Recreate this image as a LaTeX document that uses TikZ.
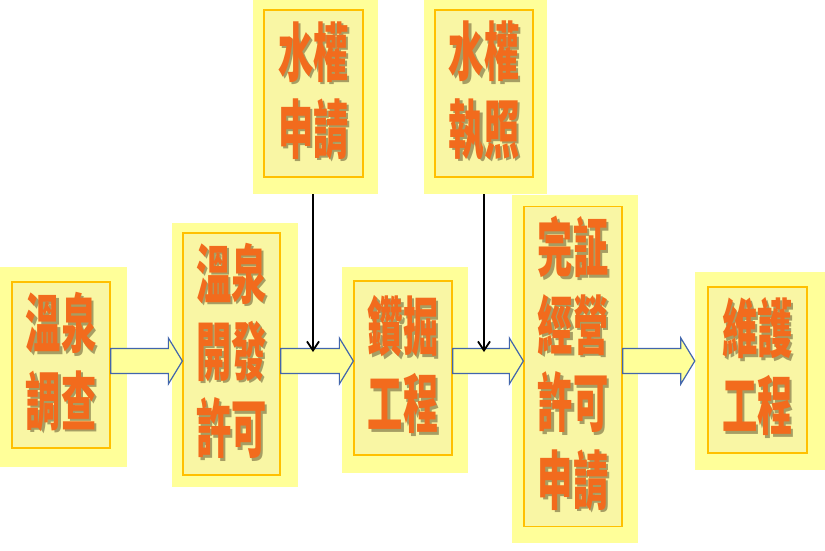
\documentclass[tikz,border=0pt]{standalone}
\usepackage{fontspec}
\usepackage{graphicx}
\newfontfamily\cjk{Noto Sans CJK TC}
\usetikzlibrary{arrows.meta,calc}
\definecolor{outery}{HTML}{FFFF99}
\definecolor{innery}{HTML}{F9F6A4}
\definecolor{goldline}{HTML}{FFC000}
\definecolor{txtorange}{HTML}{F26B1D}
\definecolor{txtshadow}{HTML}{A69E64}
\definecolor{arrowblue}{HTML}{4266AC}
\newcommand{\shtxt}[1]{\rlap{\hspace{4.5pt}\raisebox{-2.5pt}{\textcolor{txtshadow}{#1}}}\textcolor{txtorange}{#1}}
\newcommand{\boxtext}[1]{\vbox{\kern10pt\hbox{\scalebox{0.55}[1]{\fontsize{64}{75}\selectfont\cjk\bfseries\begin{tabular}{@{}c@{}}#1\end{tabular}}}}}
\newcommand{\blockarrow}[2]{%
  \draw[blkarrow] let \p1=(#1.east |- row), \p2=(#2.west |- row) in
    (\x1,\y1+12.5pt) -- (\x2-14pt,\y1+12.5pt) -- (\x2-14pt,\y1+23pt) -- (\x2,\y1)
    -- (\x2-14pt,\y1-23pt) -- (\x2-14pt,\y1-12.5pt) -- (\x1,\y1-12.5pt) -- cycle;}
\begin{document}
\begin{tikzpicture}[x=1pt,y=-1pt,
  outerbg/.style={draw=none,fill=outery,inner sep=0pt},
  innerbox/.style={draw=goldline,line width=1.3pt,fill=innery,inner sep=0pt},
  blkarrow/.style={draw=arrowblue,line width=1.2pt,fill=outery,line join=miter},
  vline/.style={draw=black,line width=1.8pt,-{Straight Barb[length=9pt,width=12pt,line width=1.8pt]}}]
\useasboundingbox[fill=white] (0,0) rectangle (825,550);
% outer backgrounds
\node[outerbg,minimum width=127pt,minimum height=200pt] (o1) at (63.5,367) {};
\node[outerbg,minimum width=126pt,minimum height=264pt] (o2) at (235,355) {};
\node[outerbg,minimum width=125pt,minimum height=194pt] (ow1) at (315.5,97) {};
\node[outerbg,minimum width=126pt,minimum height=206pt] (o3) at (405,370) {};
\node[outerbg,minimum width=123pt,minimum height=194pt] (ow2) at (485.5,97) {};
\node[outerbg,minimum width=126pt,minimum height=348pt] (o4) at (575,369) {};
\node[outerbg,minimum width=130pt,minimum height=198pt] (o5) at (760,371) {};
% inner boxes with text
\node[innerbox,minimum width=98pt,minimum height=166pt] (b1) at (61,365)
  {\boxtext{\shtxt{溫泉}\\\shtxt{調查}}};
\node[innerbox,minimum width=97pt,minimum height=232pt] (b2) at (231.5,354)
  {\boxtext{\shtxt{溫泉}\\\shtxt{開發}\\\shtxt{許可}}};
\node[innerbox,minimum width=99pt,minimum height=167pt] (w1) at (313.5,93.5)
  {\boxtext{\shtxt{水權}\\\shtxt{申請}}};
\node[innerbox,minimum width=98pt,minimum height=174pt] (b3) at (403,368)
  {\boxtext{\shtxt{鑽掘}\\\shtxt{工程}}};
\node[innerbox,minimum width=98pt,minimum height=167pt] (w2) at (484,93.5)
  {\boxtext{\shtxt{水權}\\\shtxt{執照}}};
\node[innerbox,minimum width=98pt,minimum height=317pt] (b4) at (573,366.5)
  {\boxtext{\shtxt{完証}\\\shtxt{經營}\\\shtxt{許可}\\\shtxt{申請}}};
\node[innerbox,minimum width=99pt,minimum height=166pt] (b5) at (757.5,370)
  {\boxtext{\shtxt{維護}\\\shtxt{工程}}};
% block arrows
\coordinate (row) at (0,361);
\blockarrow{b1}{b2}
\blockarrow{b2}{b3}
\blockarrow{b3}{b4}
\blockarrow{b4}{o5}
% vertical arrows
\coordinate (j1) at (313,352);
\coordinate (j2) at (484,352);
\draw[vline] (ow1.south -| j1) -- (j1);
\draw[vline] (ow2.south -| j2) -- (j2);
\end{tikzpicture}
\end{document}
